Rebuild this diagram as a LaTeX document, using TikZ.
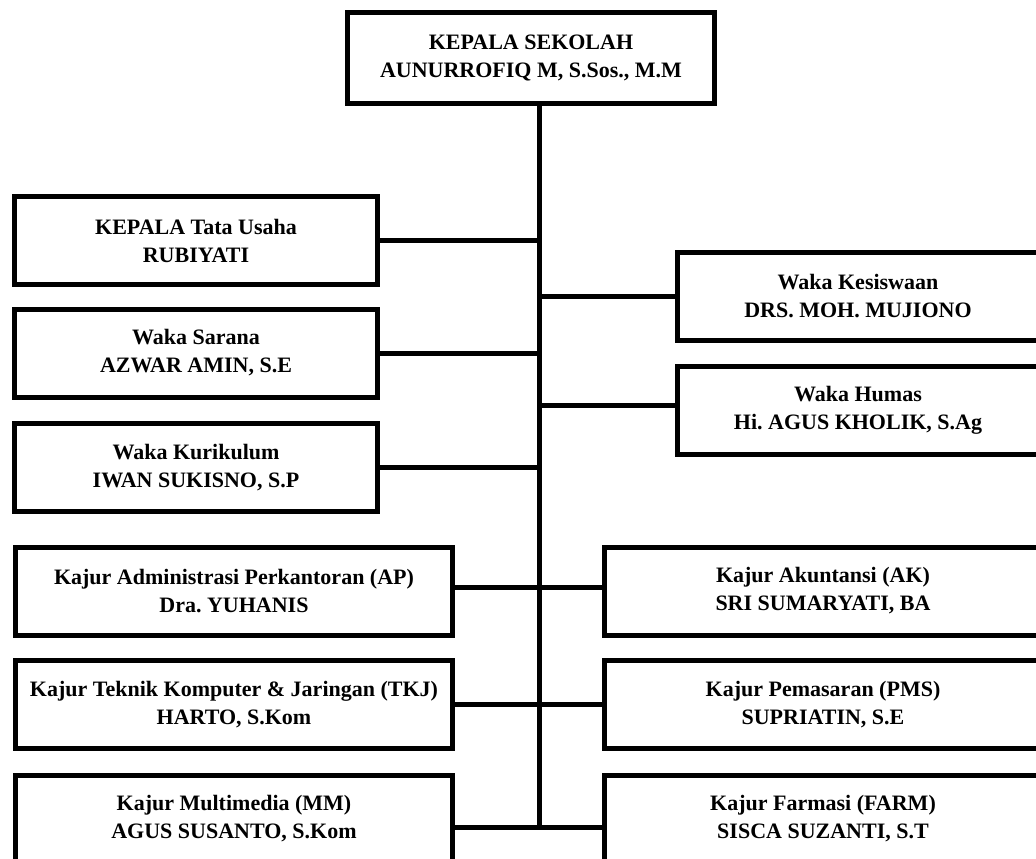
\documentclass[tikz,border=0pt]{standalone}
\usepackage{fontspec}
\setmainfont{Liberation Serif}
\frenchspacing
\begin{document}
\begin{tikzpicture}[x=1pt, y=-1pt,
    post/.style={draw, line width=5pt, fill=white, align=center, inner sep=0pt,
      font=\fontsize{22}{28}\selectfont\bfseries},
    upper/.style={post, minimum width=363pt, minimum height=88pt},
    lower/.style={post, minimum width=437pt, minimum height=88pt},
    link/.style={line width=5pt}]
          \useasboundingbox (0,0) rectangle (1036,859);
          \clip (0,0) rectangle (1036,859);

          \node[post, minimum width=367pt, minimum height=91pt] (boss) at (531,58) {KEPALA SEKOLAH\\AUNURROFIQ M, S.Sos., M.M};

          \node[upper] (tu) at (196,240.5) {KEPALA Tata Usaha\\RUBIYATI};
          \node[upper] (sarana) at (196,353) {Waka Sarana\\AZWAR AMIN, S.E};
          \node[upper] (kurikulum) at (196,467.5) {Waka Kurikulum\\IWAN SUKISNO, S.P};

          \node[upper, minimum width=362pt] (kesiswaan) at (858,296.5) {Waka Kesiswaan\\DRS. MOH. MUJIONO};
          \node[upper, minimum width=362pt] (humas) at (858,410.5) {Waka Humas\\Hi. AGUS KHOLIK, S.Ag};

          \node[lower] (ap) at (234,591) {Kajur Administrasi Perkantoran (AP)\\Dra. YUHANIS};
          \node[lower] (tkj) at (234,704.5) {Kajur Teknik Komputer \& Jaringan (TKJ)\\HARTO, S.Kom};
          \node[lower] (mm) at (234,819) {Kajur Multimedia (MM)\\AGUS SUSANTO, S.Kom};

          \node[lower] (ak) at (823,591) {Kajur Akuntansi (AK)\\SRI SUMARYATI, BA};
          \node[lower] (pms) at (823,704.5) {Kajur Pemasaran (PMS)\\SUPRIATIN, S.E};
          \node[lower] (farm) at (823,819) {Kajur Farmasi (FARM)\\SISCA SUZANTI, S.T};

          \coordinate (stem) at (539,827);

          \draw[link] (boss.south -| stem) -- (stem);

          \draw[link] (tu) -- (tu -| stem);
          \draw[link] (sarana) -- (sarana -| stem);
          \draw[link] (kurikulum) -- (kurikulum -| stem);
          \draw[link] (kesiswaan) -- (kesiswaan -| stem);
          \draw[link] ([yshift=5pt]humas.west) -- ([yshift=5pt]humas.west -| stem);

          \draw[link] ([yshift=4pt]ap.east) -- ([yshift=4pt]ak.west);
          \draw[link] (tkj) -- (pms);
          \draw[link] (mm.east |- stem) -- (farm.west |- stem);
        \end{tikzpicture}
\end{document}
